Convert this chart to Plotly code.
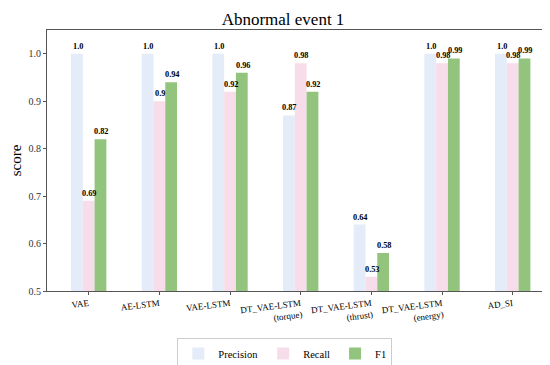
import plotly.graph_objects as go

categories = ["VAE", "AE-LSTM", "VAE-LSTM", "DT_VAE-LSTM<br>(torque)",
              "DT_VAE-LSTM<br>(thrust)", "DT_VAE-LSTM<br>(energy)", "AD_SI"]
precision = [1.0, 1.0, 1.0, 0.87, 0.64, 1.0, 1.0]
recall = [0.69, 0.9, 0.92, 0.98, 0.53, 0.98, 0.98]
f1 = [0.82, 0.94, 0.96, 0.92, 0.58, 0.99, 0.99]

FONT = "Liberation Serif"

def lab(v):
    return f"{v:.1f}" if v == 1.0 else f"{v:g}"

series = [("Precision", precision, "#e3ecf8", -12),
          ("Recall", recall, "#f7dde9", 0),
          ("F1", f1, "#93c47d", 12)]

fig = go.Figure()
for name, vals, col, shift in series:
    fig.add_trace(go.Bar(
        name=name, x=categories, y=vals, marker_color=col,
        marker_line_width=0,
    ))
    for c, v in zip(categories, vals):
        fig.add_annotation(x=c, y=v, text=f"<b>{lab(v)}</b>", showarrow=False,
                           xshift=shift + 1, yanchor="bottom", yshift=1,
                           font=dict(family=FONT, size=8.3, color="black"))

fig.update_layout(
    width=550, height=365,
    margin=dict(l=33, r=4, t=22, b=69),
    paper_bgcolor="white", plot_bgcolor="white",
    barmode="group", bargap=0.5, bargroupgap=0,
    font=dict(family=FONT, color="black"),
    title=dict(text="Abnormal event 1", x=0.5, xanchor="center", y=0.97, yanchor="middle",
               font=dict(family=FONT, size=17, color="black")),
    legend=dict(orientation="h", x=0.47, xanchor="center", y=-0.18, yanchor="top",
                bordercolor="#cccccc", borderwidth=1,
                font=dict(family=FONT, size=10.5), itemwidth=30,
                traceorder="normal"),
    showlegend=True,
)
fig.update_xaxes(range=[-0.59, 6.57], showline=True, linecolor="#555555", linewidth=1,
                 mirror=True, ticks="outside", ticklen=3, tickcolor="#555555",
                 tickangle=-7, tickfont=dict(family=FONT, size=9, color="black"))
fig.update_yaxes(range=[0.5, 1.05], showline=True, linecolor="#555555", linewidth=1,
                 mirror=True, ticks="outside", ticklen=3, tickcolor="#555555",
                 tickvals=[0.5, 0.6, 0.7, 0.8, 0.9, 1.0],
                 ticktext=["0.5", "0.6", "0.7", "0.8", "0.9", "1.0"],
                 showgrid=False, zeroline=False,
                 tickfont=dict(family=FONT, size=10, color="#333333"),
                 title=dict(text="score", font=dict(family=FONT, size=15, color="black"), standoff=6))

fig.write_html("out.html")
